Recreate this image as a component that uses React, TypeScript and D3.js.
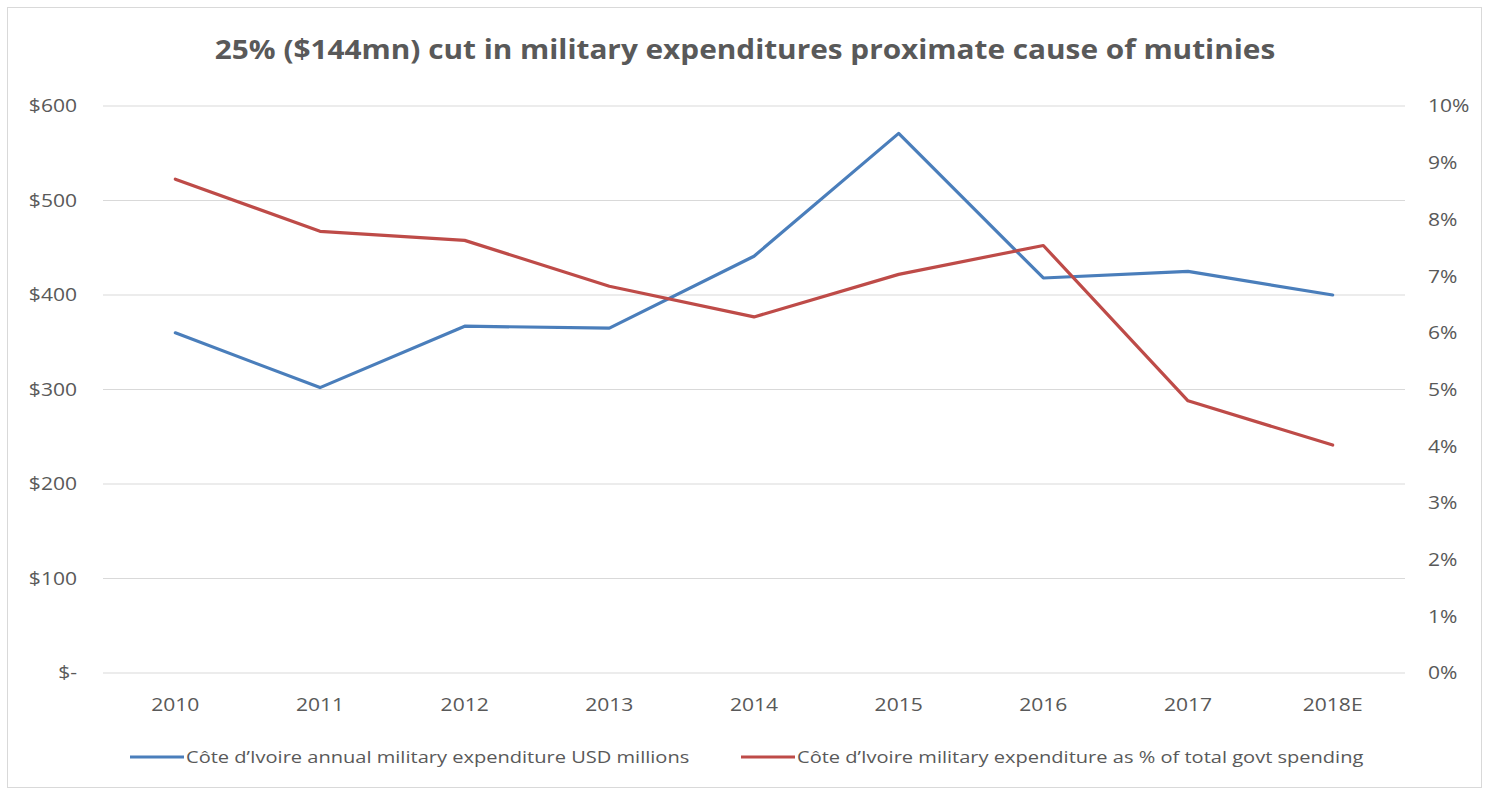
import React from "react";
import * as d3 from "d3";

const categories = ["2010", "2011", "2012", "2013", "2014", "2015", "2016", "2017", "2018E"];
const expenditureUSD = [360, 302, 367, 365, 441, 571, 418, 425, 400];
const expenditurePct = [8.71, 7.79, 7.63, 6.82, 6.28, 7.03, 7.54, 4.8, 4.02];
const leftTicks = [0, 100, 200, 300, 400, 500, 600];
const rightTicks = [0, 1, 2, 3, 4, 5, 6, 7, 8, 9, 10];
const seriesNames = [
  "Côte d\u2019Ivoire annual military expenditure USD millions",
  "Côte d\u2019Ivoire military expenditure as % of total govt spending",
];
const title = "25% ($144mn) cut in military expenditures proximate cause of mutinies";

const W = 1489;
const H = 793;
const M = { left: 103, right: 1405, top: 106, bottom: 673 };
const BLUE = "#4A7EBB";
const RED = "#BE4B48";
const TEXT = "#595959";
const FONT = "'Open Sans', 'Noto Sans', sans-serif";
const SX = 1.17;

function T(props: {
  x: number;
  y: number;
  anchor?: "start" | "middle" | "end";
  size: number;
  weight?: number;
  sx?: number;
  dy?: string;
  children: React.ReactNode;
}) {
  const { x, y, anchor = "start", size, weight = 400, sx = SX, dy, children } = props;
  return (
    <text
      transform={`translate(${x},${y}) scale(${sx},1)`}
      x={0}
      y={0}
      dy={dy}
      textAnchor={anchor}
      fontSize={size}
      fontWeight={weight}
      fill={TEXT}
    >
      {children}
    </text>
  );
}

export default function App() {
  const x = d3.scaleBand<string>().domain(categories).range([M.left, M.right]);
  const yL = d3.scaleLinear().domain([0, 600]).range([M.bottom, M.top]);
  const yR = d3.scaleLinear().domain([0, 10]).range([M.bottom, M.top]);
  const cx = (c: string) => (x(c) as number) + x.bandwidth() / 2;

  const lineL = d3
    .line<number>()
    .x((_, i) => cx(categories[i]))
    .y((d) => yL(d));
  const lineR = d3
    .line<number>()
    .x((_, i) => cx(categories[i]))
    .y((d) => yR(d));

  const fmtL = (v: number) => (v === 0 ? "$-" : `$${v}`);
  const fmtR = (v: number) => `${v}%`;

  return (
    <svg
      width={W}
      height={H}
      style={{ position: "absolute", left: 0, top: 0, background: "#fff" }}
      fontFamily={FONT}
    >
      <rect x={0} y={0} width={W} height={H} fill="#fff" />
      <rect x={7.5} y={7.5} width={1474} height={780} fill="#fff" stroke="#d9d9d9" strokeWidth={1} />
      <T x={745} y={59} anchor="middle" size={26} weight={700} sx={1.145}>
        {title}
      </T>
      {leftTicks.map((t) => (
        <g key={"l" + t}>
          <line x1={M.left} x2={M.right} y1={yL(t)} y2={yL(t)} stroke="#d9d9d9" strokeWidth={1} />
          <T x={77} y={yL(t)} dy="0.36em" anchor="end" size={18}>
            {fmtL(t)}
          </T>
        </g>
      ))}
      {rightTicks.map((t) => (
        <T key={"r" + t} x={1428} y={yR(t)} dy="0.36em" anchor="start" size={18}>
          {fmtR(t)}
        </T>
      ))}
      {categories.map((c) => (
        <T key={c} x={cx(c)} y={711} anchor="middle" size={18}>
          {c}
        </T>
      ))}
      <path d={lineL(expenditureUSD) || ""} fill="none" stroke={BLUE} strokeWidth={3.2} strokeLinejoin="round" strokeLinecap="round" />
      <path d={lineR(expenditurePct) || ""} fill="none" stroke={RED} strokeWidth={3.2} strokeLinejoin="round" strokeLinecap="round" />
      <g>
        <line x1={130} x2={184} y1={757} y2={757} stroke={BLUE} strokeWidth={3.2} />
        <T x={186} y={757} dy="0.36em" size={17} sx={1.18}>
          {seriesNames[0]}
        </T>
        <line x1={741} x2={795} y1={757} y2={757} stroke={RED} strokeWidth={3.2} />
        <T x={797} y={757} dy="0.36em" size={17} sx={1.18}>
          {seriesNames[1]}
        </T>
      </g>
    </svg>
  );
}
